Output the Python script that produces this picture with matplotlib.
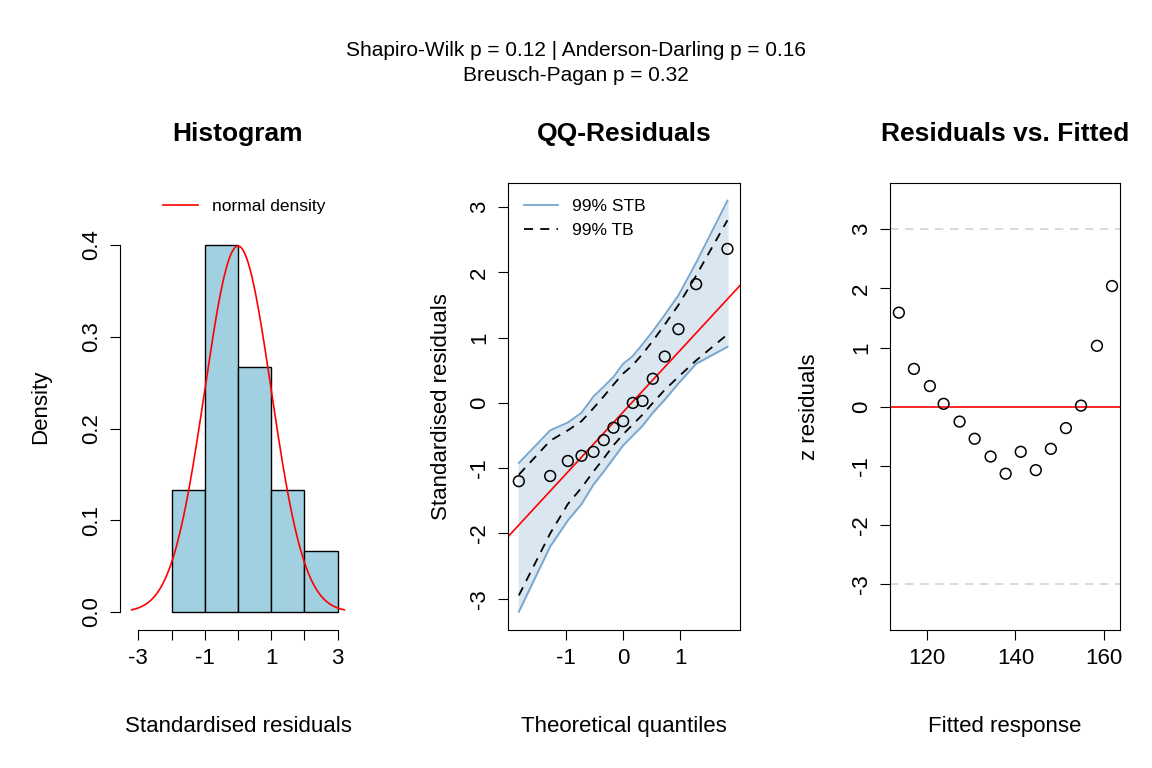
import numpy as np
import matplotlib.pyplot as plt

plt.rcParams['font.family'] = ['Liberation Sans', 'DejaVu Sans']

# histogram data
bin_edges = [-2, -1, 0, 1, 2, 3]
densities = [0.133, 0.4, 0.267, 0.133, 0.067]

# QQ data
theo_q = [-1.83, -1.28, -0.97, -0.73, -0.52, -0.34, -0.17, 0.0, 0.17, 0.34, 0.52, 0.73, 0.97, 1.28, 1.83]
std_res = [-1.20, -1.12, -0.89, -0.81, -0.75, -0.57, -0.38, -0.28, 0.0, 0.03, 0.37, 0.71, 1.13, 1.82, 2.36]
stb_upper = [-0.92, -0.42, -0.3, -0.15, 0.1, 0.25, 0.4, 0.6, 0.72, 0.9, 1.1, 1.35, 1.65, 2.15, 3.1]
stb_lower = [-3.2, -2.2, -1.8, -1.55, -1.25, -1.05, -0.85, -0.65, -0.5, -0.35, -0.15, 0.05, 0.3, 0.6, 0.86]
tb_upper = [-1.1, -0.58, -0.42, -0.28, -0.08, 0.1, 0.28, 0.45, 0.58, 0.75, 0.95, 1.2, 1.5, 1.95, 2.8]
tb_lower = [-2.95, -2.0, -1.55, -1.3, -1.05, -0.85, -0.65, -0.48, -0.33, -0.18, 0.0, 0.2, 0.4, 0.65, 1.05]
qq_line = [-0.14, 0.946]  # intercept, slope

# residuals vs fitted
fitted = [113.7, 117.1, 120.7, 123.8, 127.4, 130.8, 134.4, 137.8, 141.2, 144.6, 148.0, 151.4, 154.8, 158.4, 161.8]
z_res = [1.59, 0.64, 0.35, 0.05, -0.25, -0.54, -0.84, -1.13, -0.76, -1.07, -0.71, -0.36, 0.02, 1.03, 2.04]

W, H = 1152, 768
fig = plt.figure(figsize=(11.52, 7.68), dpi=100)

def pos(x0, y0, x1, y1):
    return [x0 / W, 1 - y1 / H, (x1 - x0) / W, (y1 - y0) / H]

fs = 16
tfs = 19
lfs = 12.5

# --- histogram
ax1 = fig.add_axes(pos(130, 183, 346, 630))
ax1.bar(bin_edges[:-1], densities, width=1, align='edge', color='#a1d0e0', edgecolor='black', lw=1)
xs = np.linspace(-3.2, 3.2, 300)
ax1.plot(xs, np.exp(-xs**2 / 2) / np.sqrt(2 * np.pi), color='red', lw=1.2, label='normal density')
ax1.set_xlim(-3.25, 3.25)
ax1.set_ylim(-0.0196, 0.4676)
for s in ['top', 'right']:
    ax1.spines[s].set_visible(False)
ax1.spines['left'].set_position(('outward', 7))
ax1.spines['left'].set_bounds(0, 0.4)
ax1.spines['bottom'].set_bounds(-3, 3)
ax1.set_xticks(range(-3, 4))
ax1.set_xticklabels(['-3', '', '-1', '', '1', '', '3'])
ax1.set_yticks([0, 0.1, 0.2, 0.3, 0.4])
ax1.set_yticklabels(['0.0', '0.1', '0.2', '0.3', '0.4'], rotation=90, va='center')
ax1.set_title('Histogram', fontsize=tfs, fontweight='bold', pad=30)
ax1.set_xlabel('Standardised residuals', fontsize=fs, labelpad=34)
ax1.set_ylabel('Density', fontsize=fs, labelpad=22)
ax1.legend(loc='upper center', bbox_to_anchor=(0.53, 1.0), frameon=False, fontsize=lfs)

# --- QQ
ax2 = fig.add_axes(pos(508, 183, 740, 630))
ax2.fill_between(theo_q, stb_lower, stb_upper, color='#dae6f0')
ax2.plot(theo_q, stb_upper, color='#76a5cf', lw=1.3, label='99% STB')
ax2.plot(theo_q, stb_lower, color='#76a5cf', lw=1.3)
ax2.plot(theo_q, tb_upper, color='black', ls=(0, (5, 4)), lw=1.3, label='99% TB')
ax2.plot(theo_q, tb_lower, color='black', ls=(0, (5, 4)), lw=1.3)
lx = np.array([-2.1, 2.1])
ax2.plot(lx, qq_line[0] + qq_line[1] * lx, color='red', lw=1.2)
ax2.scatter(theo_q, std_res, s=60, facecolors='none', edgecolors='black', lw=1.1, zorder=5)
ax2.set_xlim(-2.02, 2.05)
ax2.set_ylim(-3.48, 3.37)
ax2.set_xticks([-1, 0, 1])
ax2.set_xticklabels(['-1', '0', '1'])
ax2.set_yticks(range(-3, 4))
ax2.set_yticklabels([str(v) for v in range(-3, 4)], rotation=90, va='center')
ax2.set_title('QQ-Residuals', fontsize=tfs, fontweight='bold', pad=30)
ax2.set_xlabel('Theoretical quantiles', fontsize=fs, labelpad=34)
ax2.set_ylabel('Standardised residuals', fontsize=fs, labelpad=12)
ax2.legend(loc='upper left', frameon=False, fontsize=lfs)

# --- residuals vs fitted
ax3 = fig.add_axes(pos(890, 183, 1120, 630))
ax3.axhline(3, color='lightgray', ls=(0, (5, 4)), lw=1.2)
ax3.axhline(-3, color='lightgray', ls=(0, (5, 4)), lw=1.2)
ax3.axhline(0, color='red', lw=1.2)
ax3.scatter(fitted, z_res, s=60, facecolors='none', edgecolors='black', lw=1.1, zorder=5)
ax3.set_xlim(111.7, 163.6)
ax3.set_ylim(-3.77, 3.78)
ax3.set_xticks([120, 140, 160])
ax3.set_yticks(range(-3, 4))
ax3.set_yticklabels([str(v) for v in range(-3, 4)], rotation=90, va='center')
ax3.set_title('Residuals vs. Fitted', fontsize=tfs, fontweight='bold', pad=30)
ax3.set_xlabel('Fitted response', fontsize=fs, labelpad=34)
ax3.set_ylabel('z residuals', fontsize=fs, labelpad=22)

for ax in (ax1, ax2, ax3):
    ax.tick_params(labelsize=fs, length=7, pad=6)

fig.text(576 / W, 1 - 63 / H, 'Shapiro-Wilk p = 0.12 | Anderson-Darling p = 0.16\nBreusch-Pagan p = 0.32',
         ha='center', va='center', fontsize=15, linespacing=1.45)

fig.savefig('out.png', dpi=100)
